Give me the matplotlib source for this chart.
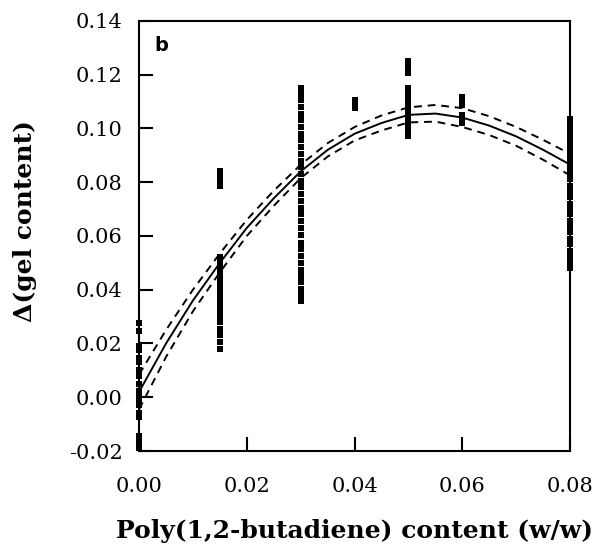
import matplotlib.pyplot as plt

# measured points, grouped by poly(1,2-butadiene) content
x_levels = [0.0, 0.015, 0.03, 0.04, 0.05, 0.06, 0.08]
y_at_000 = [0.0275, 0.0245, 0.0190, 0.0175, 0.0145, 0.0130, 0.0100, 0.0080, 0.0050,
            0.0025, 0.0010, -0.0015, -0.0030, -0.0060, -0.0075, -0.0145, -0.0165, -0.0190]
y_at_015 = [0.0840, 0.0820, 0.0800, 0.0785,
            0.0520, 0.0500, 0.0485, 0.0470, 0.0455, 0.0440, 0.0420, 0.0400, 0.0385,
            0.0360, 0.0340, 0.0320, 0.0300, 0.0280, 0.0255, 0.0230, 0.0205, 0.0180]
y_at_030 = [0.1150, 0.1128, 0.1104, 0.1080, 0.1055, 0.1032, 0.1005, 0.0980, 0.0958,
            0.0930, 0.0905, 0.0880, 0.0858, 0.0830, 0.0805, 0.0780, 0.0755, 0.0730,
            0.0705, 0.0682, 0.0655, 0.0630, 0.0604, 0.0575, 0.0550, 0.0525, 0.0500,
            0.0472, 0.0450, 0.0428, 0.0402, 0.0380, 0.0358]
y_at_040 = [0.1105, 0.1090, 0.1075]
y_at_050 = [0.1250, 0.1235, 0.1220, 0.1205, 0.1150, 0.1130, 0.1110, 0.1095, 0.1075,
            0.1060, 0.1045, 0.1030, 0.1010, 0.0990, 0.0970]
y_at_060 = [0.1115, 0.1100, 0.1085, 0.1050, 0.1035, 0.1020]
y_at_080 = [0.1035, 0.1015, 0.0995, 0.0975, 0.0955, 0.0935, 0.0915, 0.0895, 0.0870,
            0.0850, 0.0830, 0.0810, 0.0785, 0.0765, 0.0745, 0.0720, 0.0700, 0.0680,
            0.0655, 0.0635, 0.0615, 0.0590, 0.0570, 0.0545, 0.0520, 0.0500, 0.0480]
y_groups = [y_at_000, y_at_015, y_at_030, y_at_040, y_at_050, y_at_060, y_at_080]

fit_x = [0.0, 0.005, 0.01, 0.015, 0.02, 0.025, 0.03, 0.035, 0.04, 0.045, 0.05,
         0.055, 0.06, 0.065, 0.07, 0.075, 0.08]
fit_y = [0.0020, 0.0200, 0.0360, 0.0500, 0.0630, 0.0740, 0.0840, 0.0920, 0.0980,
         0.1020, 0.1050, 0.1055, 0.1040, 0.1010, 0.0970, 0.0920, 0.0865]
fit_hi = [0.0085, 0.0250, 0.0400, 0.0535, 0.0660, 0.0768, 0.0865, 0.0945, 0.1005,
          0.1048, 0.1078, 0.1087, 0.1075, 0.1045, 0.1005, 0.0957, 0.0905]
fit_lo = [-0.0045, 0.0150, 0.0320, 0.0465, 0.0600, 0.0712, 0.0815, 0.0895, 0.0955,
          0.0992, 0.1022, 0.1025, 0.1005, 0.0975, 0.0935, 0.0883, 0.0825]

fig = plt.figure(figsize=(5.97, 5.47), dpi=100)
ax = fig.add_axes([0.2330, 0.1755, 0.7220, 0.7865])

for xv, ys in zip(x_levels, y_groups):
    ax.plot([xv] * len(ys), ys, 's', color='black', markersize=4,
            markeredgewidth=0, clip_on=False, zorder=3)

ax.plot(fit_x, fit_y, '-', color='black', lw=1.4)
ax.plot(fit_x, fit_hi, '--', color='black', lw=1.4, dashes=(4, 3))
ax.plot(fit_x, fit_lo, '--', color='black', lw=1.4, dashes=(4, 3))

ax.set_xlim(0, 0.08)
ax.set_ylim(-0.02, 0.14)
ax.set_xticks([0.0, 0.02, 0.04, 0.06, 0.08])
ax.set_yticks([-0.02, 0.0, 0.02, 0.04, 0.06, 0.08, 0.10, 0.12, 0.14])
ax.set_xticklabels(['0.00', '0.02', '0.04', '0.06', '0.08'])
ax.set_yticklabels(['-0.02', '0.00', '0.02', '0.04', '0.06', '0.08', '0.10', '0.12', '0.14'])

for s in ax.spines.values():
    s.set_linewidth(1.5)
ax.tick_params(axis='both', direction='in', length=10, width=1.5,
               labelsize=15, labelfontfamily='DejaVu Serif')
ax.tick_params(axis='x', pad=19)
ax.tick_params(axis='y', pad=12)

ax.set_xlabel('Poly(1,2-butadiene) content (w/w)', fontsize=18, fontweight='bold',
              family='DejaVu Serif')
ax.xaxis.set_label_coords(0.5, -0.158)
ax.set_ylabel('Δ(gel content)', fontsize=18, fontweight='bold',
              family='DejaVu Serif')
ax.yaxis.set_label_coords(-0.237, 0.535)

ax.text(0.035, 0.93, 'b', transform=ax.transAxes, fontsize=14, fontweight='bold',
        family='DejaVu Sans')

fig.savefig('out.png', dpi=100, facecolor='white')
